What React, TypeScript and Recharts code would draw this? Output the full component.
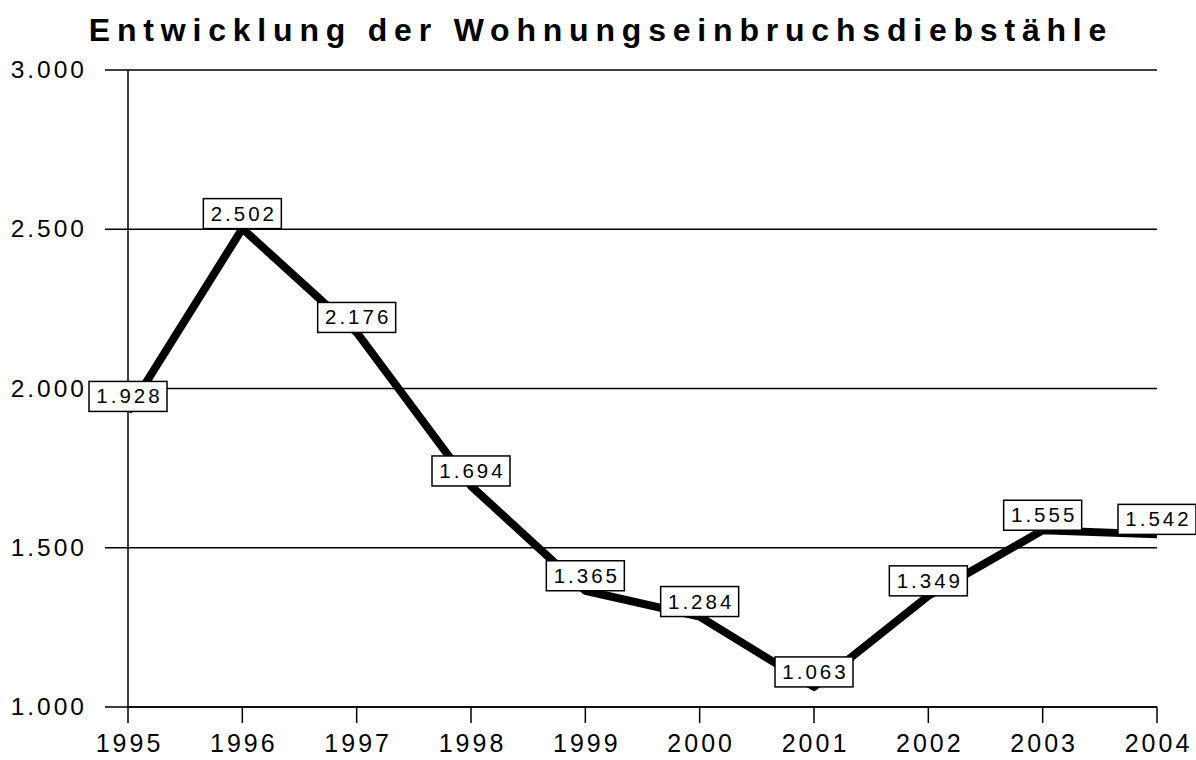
import React from "react";
import {
  LineChart,
  Line,
  XAxis,
  YAxis,
  CartesianGrid,
  LabelList,
} from "recharts";

const years = ["1995", "1996", "1997", "1998", "1999", "2000", "2001", "2002", "2003", "2004"];
const burglaries = [1928, 2502, 2176, 1694, 1365, 1284, 1063, 1349, 1555, 1542];
const yTicks = [1000, 1500, 2000, 2500, 3000];

const data = years.map((year, i) => ({ year, value: burglaries[i] }));

const FONT = "'Liberation Sans', Arial, sans-serif";

// German thousands separator
const fmt = (v: number) => v.toLocaleString("de-DE");

const YTick = (props: any) => {
  const { x, y, payload } = props;
  return (
    <text
      x={x - 16}
      y={y}
      dy={8}
      textAnchor="end"
      fontFamily={FONT}
      fontSize={24.5}
      letterSpacing={3}
      fill="#000"
    >
      {fmt(payload.value)}
    </text>
  );
};

const XTick = (props: any) => {
  const { x, payload } = props;
  return (
    <text
      x={x + 1.5}
      y={752}
      textAnchor="middle"
      fontFamily={FONT}
      fontSize={25}
      letterSpacing={3}
      fill="#000"
    >
      {payload.value}
    </text>
  );
};

// white box with border, sitting on top of the point
const ValueBox = (props: any) => {
  const { x, y, value } = props;
  const w = 78;
  const h = 30;
  return (
    <g>
      <rect
        x={x - w / 2}
        y={y - h}
        width={w}
        height={h}
        fill="#fff"
        stroke="#000"
        strokeWidth={1.5}
      />
      <text
        x={x + 1.5}
        y={y - 8}
        textAnchor="middle"
        fontFamily={FONT}
        fontSize={20.5}
        letterSpacing={3}
        fill="#000"
      >
        {fmt(value)}
      </text>
    </g>
  );
};

export default function App() {
  return (
    <div
      style={{
        position: "absolute",
        left: 0,
        top: 0,
        width: 1196,
        height: 760,
        background: "#fff",
      }}
    >
      <div
        style={{
          position: "absolute",
          left: 3,
          top: 12,
          width: 1196,
          textAlign: "center",
          fontFamily: FONT,
          fontWeight: "bold",
          fontSize: 32,
          letterSpacing: 6.8,
          lineHeight: "36px",
          color: "#000",
        }}
      >
        Entwicklung der Wohnungseinbruchsdiebstähle
      </div>
      <LineChart
        width={1196}
        height={760}
        data={data}
        margin={{ top: 70, right: 39, bottom: 0, left: 0 }}
        style={{ overflow: "visible" }}
      >
        <CartesianGrid
          vertical={false}
          stroke="#000"
          strokeWidth={1.5}
          horizontalValues={yTicks}
        />
        <XAxis
          dataKey="year"
          height={53}
          axisLine={{ stroke: "#000", strokeWidth: 1.5 }}
          tickLine={{ stroke: "#000", strokeWidth: 1.5 }}
          tickSize={16}
          tick={<XTick />}
          interval={0}
        />
        <YAxis
          width={128}
          domain={[1000, 3000]}
          ticks={yTicks}
          axisLine={{ stroke: "#000", strokeWidth: 1.5 }}
          tickLine={{ stroke: "#000", strokeWidth: 1.5 }}
          tickSize={23}
          tick={<YTick />}
        />
        <Line
          type="linear"
          dataKey="value"
          stroke="#000"
          strokeWidth={8}
          strokeLinejoin="round"
          dot={false}
          isAnimationActive={false}
        >
          <LabelList dataKey="value" content={<ValueBox />} />
        </Line>
      </LineChart>
    </div>
  );
}
